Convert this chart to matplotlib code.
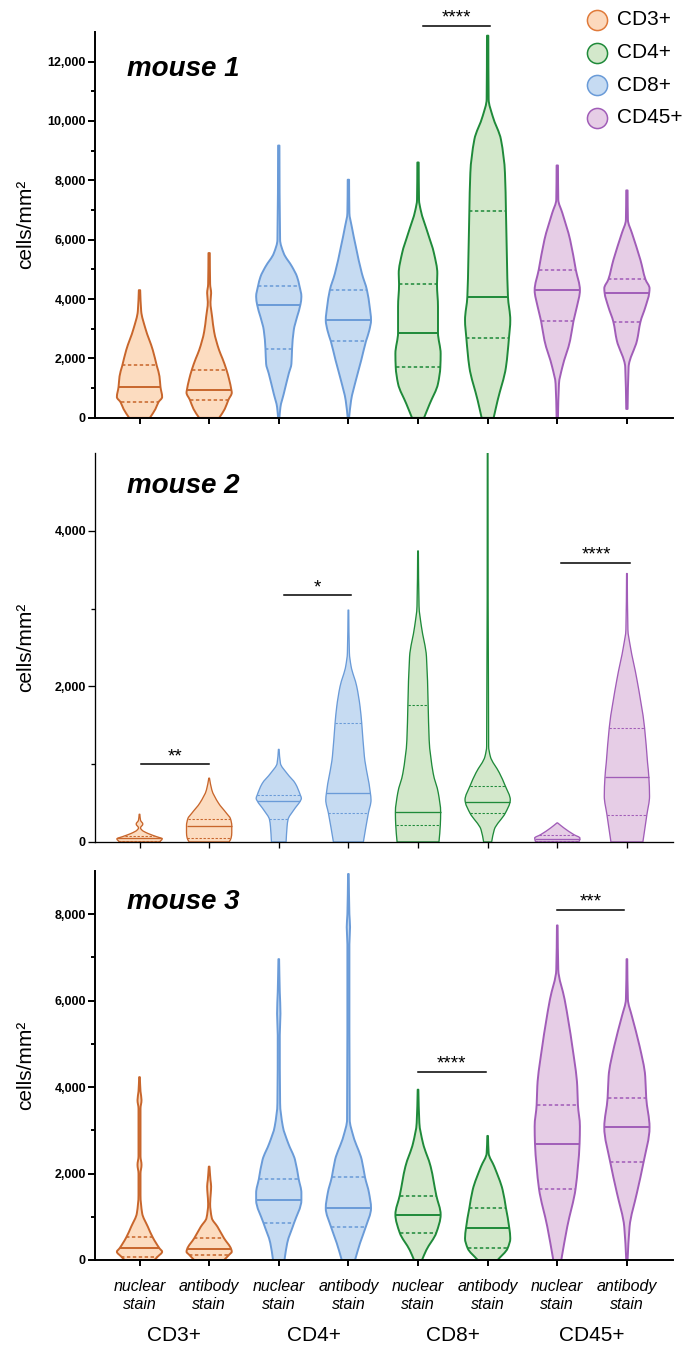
import numpy as np
import matplotlib
matplotlib.use('Agg')
import matplotlib.pyplot as plt
from matplotlib.path import Path
from matplotlib.patches import PathPatch
from matplotlib.ticker import FixedLocator, FuncFormatter
from matplotlib.transforms import blended_transform_factory

plt.rcParams['font.family'] = ['Liberation Sans', 'DejaVu Sans']

# x positions: nuclear / antibody stain pairs for CD3+, CD4+, CD8+, CD45+
positions = [1, 2, 3, 4, 5, 6, 7, 8]
stain_labels = ['nuclear\nstain', 'antibody\nstain'] * 4
group_labels = ['CD3+', 'CD4+', 'CD8+', 'CD45+']

# colours per pair (edge, fill)
orange = ('#C8662C', '#FCDCC0')
blue = ('#6A9BD8', '#C6DBF2')
green = ('#1F8A3A', '#D3E8CB')
purple = ('#A15DB8', '#E6CDE6')
pair_colors = [orange, orange, blue, blue, green, green, purple, purple]

legend_labels = ['CD3+', 'CD4+', 'CD8+', 'CD45+']
legend_edges = ['#E07A3A', '#1F8A3A', '#6A9BD8', '#A15DB8']
legend_faces = ['#FCD9BD', '#D3E8CB', '#C6DBF2', '#E6CDE6']

# ---- mouse 1: density profiles (cells/mm2, relative half width) ----
m1_y1 = [0, 300, 530, 700, 1040, 1400, 1750, 2280, 3000, 3600, 4300]
m1_w1 = [31, 48, 57, 68, 63, 60, 52, 40, 18, 5, 2]
m1_y2 = [0, 300, 610, 850, 930, 1300, 1620, 2000, 2280, 2900, 3400, 3900, 4200, 4500, 5550]
m1_w2 = [30, 47, 58, 68, 67, 60, 52, 40, 30, 15, 9, 4, 6, 3, 2]
m1_y3 = [0, 360, 810, 1490, 1820, 2330, 2950, 3400, 3810, 4080, 4450, 4750, 5090, 5540, 6000, 9170]
m1_w3 = [2, 5, 15, 30, 38, 40, 45, 55, 65, 68, 62, 55, 40, 15, 4, 2]
m1_y4 = [0, 590, 1260, 1940, 2580, 2950, 3290, 3740, 4300, 4860, 5770, 6440, 6900, 8020]
m1_w4 = [2, 8, 22, 38, 52, 62, 67, 63, 55, 40, 22, 10, 3, 2]
m1_y5 = [0, 470, 1150, 1710, 2160, 2870, 3740, 4500, 4860, 5540, 6200, 7000, 7340, 8600]
m1_w5 = [18, 35, 60, 67, 68, 60, 60, 57, 58, 48, 30, 8, 3, 2]
m1_y6 = [0, 590, 1710, 2690, 3290, 4080, 5320, 6950, 8250, 9370, 10160, 10730, 12870]
m1_w6 = [18, 30, 55, 64, 68, 61, 58, 55, 52, 40, 15, 3, 2]
m1_y7 = [0, 1150, 1710, 2610, 3260, 3740, 4300, 4980, 6000, 6900, 7350, 8500]
m1_w7 = [2, 5, 15, 38, 48, 58, 67, 55, 38, 15, 3, 2]
m1_y8 = [300, 1710, 2610, 3230, 3740, 4210, 4360, 4660, 5320, 6220, 6670, 7660]
m1_w8 = [2, 5, 30, 40, 55, 66, 67, 55, 40, 15, 3, 2]
m1_q1 = [530, 610, 2330, 2580, 1710, 2690, 3260, 3230]
m1_med = [1040, 930, 3810, 3290, 2870, 4080, 4300, 4210]
m1_q3 = [1770, 1620, 4450, 4300, 4500, 6950, 4980, 4660]

# ---- mouse 2 ----
m2_y1 = [0, 40, 70, 110, 150, 180, 230, 280, 356]
m2_w1 = [60, 68, 50, 25, 8, 3, 10, 3, 1]
m2_y2 = [0, 50, 120, 210, 300, 370, 500, 670, 820]
m2_w2 = [60, 66, 68, 68, 64, 52, 28, 8, 1]
m2_y3 = [0, 200, 290, 410, 530, 560, 600, 750, 880, 1010, 1190]
m2_w3 = [22, 25, 28, 45, 65, 68, 65, 50, 25, 5, 1]
m2_y4 = [0, 370, 540, 630, 1100, 1530, 1740, 2000, 2260, 2430, 2980]
m2_w4 = [45, 60, 68, 66, 48, 40, 35, 25, 8, 3, 1]
m2_y5 = [0, 220, 380, 630, 880, 1310, 1760, 2380, 2770, 3030, 3740]
m2_w5 = [62, 66, 67, 60, 45, 33, 30, 25, 10, 3, 1]
m2_y6 = [0, 160, 370, 510, 540, 720, 890, 1100, 1230, 5000]
m2_w6 = [12, 20, 53, 67, 68, 53, 35, 8, 3, 1]
m2_y7 = [0, 50, 94, 180, 245]
m2_w7 = [65, 68, 50, 20, 1]
m2_y8 = [0, 350, 590, 830, 1020, 1470, 2090, 2520, 2730, 3450]
m2_w8 = [48, 60, 68, 66, 62, 53, 30, 10, 3, 1]
m2_q1 = [17, 50, 290, 370, 220, 370, 15, 350]
m2_med = [45, 210, 530, 630, 380, 510, 40, 830]
m2_q3 = [80, 300, 600, 1530, 1760, 720, 85, 1470]

# ---- mouse 3 ----
m3_y1 = [0, 80, 190, 270, 520, 770, 1080, 1500, 2000, 2200, 2400, 3000, 3500, 3700, 3900, 4230]
m3_w1 = [45, 55, 68, 60, 40, 25, 8, 3, 3, 6, 3, 3, 3, 6, 3, 1]
m3_y2 = [0, 120, 190, 255, 500, 770, 970, 1300, 1550, 1700, 1850, 2160]
m3_w2 = [45, 60, 68, 66, 45, 25, 8, 3, 5, 6, 4, 1]
m3_y3 = [0, 390, 850, 1390, 1550, 1870, 2320, 2700, 3090, 3630, 5200, 5700, 6200, 6960]
m3_w3 = [17, 25, 45, 67, 67, 59, 48, 28, 12, 4, 3, 5, 3, 1]
m3_y4 = [0, 390, 760, 1200, 1550, 1910, 2320, 2860, 3250, 7300, 7700, 8000, 8930]
m3_w4 = [20, 35, 52, 68, 62, 50, 40, 15, 4, 3, 5, 3, 1]
m3_y5 = [0, 230, 630, 1050, 1490, 2160, 2700, 3170, 3940]
m3_w5 = [12, 25, 55, 68, 55, 38, 15, 4, 1]
m3_y6 = [0, 270, 500, 740, 1200, 1620, 2160, 2470, 2870]
m3_w6 = [30, 60, 68, 65, 55, 45, 20, 3, 1]
m3_y7 = [0, 770, 1650, 2160, 2690, 3090, 3590, 4020, 4950, 6030, 6720, 7740]
m3_w7 = [12, 30, 55, 62, 67, 68, 62, 60, 45, 22, 3, 1]
m3_y8 = [0, 770, 1550, 2260, 3070, 3750, 4250, 4950, 5640, 6030, 6960]
m3_w8 = [2, 8, 30, 50, 68, 58, 55, 38, 15, 3, 1]
m3_q1 = [80, 120, 850, 760, 630, 270, 1650, 2260]
m3_med = [270, 255, 1390, 1200, 1050, 740, 2690, 3070]
m3_q3 = [520, 500, 1870, 1910, 1490, 1200, 3590, 3750]

# significance bars: (x start, x end, height, stars)
m1_sig = [(5.07, 6.04, 13200, '****')]
m2_sig = [(1.02, 2.0, 1000, '**'), (3.07, 4.04, 3170, '*'), (7.06, 8.05, 3590, '****')]
m3_sig = [(7.0, 7.96, 8100, '***'), (5.0, 5.97, 4350, '****')]

VWIDTH = 0.65
DASH = (0, (2.2, 1.6))


def knot_slopes(y, x):
    # shape preserving slopes dx/dy at each knot
    h = np.diff(y)
    d = np.diff(x) / h
    m = np.zeros_like(x)
    m[0], m[-1] = d[0], d[-1]
    for i in range(1, len(x) - 1):
        if d[i - 1] * d[i] > 0:
            w1 = 2 * h[i] + h[i - 1]
            w2 = h[i] + 2 * h[i - 1]
            m[i] = (w1 + w2) / (w1 / d[i - 1] + w2 / d[i])
    return m


def width_at(q, y, x, m):
    i = int(np.clip(np.searchsorted(y, q) - 1, 0, len(y) - 2))
    h = y[i + 1] - y[i]
    t = (q - y[i]) / h
    return ((2 * t**3 - 3 * t**2 + 1) * x[i] + (t**3 - 2 * t**2 + t) * h * m[i]
            + (-2 * t**3 + 3 * t**2) * x[i + 1] + (t**3 - t**2) * h * m[i + 1])


def draw_violin(ax, pos, ys, ws, q1, med, q3, edge, face, lw):
    y = np.asarray(ys, float)
    hw = np.asarray(ws, float)
    hw = hw * 0.5 * VWIDTH / hw.max()
    m = knot_slopes(y, hw)

    verts = [(pos - hw[0], y[0]), (pos + hw[0], y[0])]
    codes = [Path.MOVETO, Path.LINETO]
    for side in (1, -1):
        idx = range(len(y) - 1) if side == 1 else range(len(y) - 2, -1, -1)
        if side == -1:
            verts.append((pos - hw[-1], y[-1]))
            codes.append(Path.LINETO)
        for i in idx:
            h = y[i + 1] - y[i]
            c1 = (pos + side * (hw[i] + m[i] * h / 3), y[i] + h / 3)
            c2 = (pos + side * (hw[i + 1] - m[i + 1] * h / 3), y[i + 1] - h / 3)
            if side == 1:
                verts += [c1, c2, (pos + hw[i + 1], y[i + 1])]
            else:
                verts += [c2, c1, (pos - hw[i], y[i])]
            codes += [Path.CURVE4] * 3
    verts.append(verts[0])
    codes.append(Path.CLOSEPOLY)
    ax.add_patch(PathPatch(Path(verts, codes), facecolor=face, edgecolor=edge,
                           lw=lw, joinstyle='round'))

    for q, ls in ((q1, DASH), (med, '-'), (q3, DASH)):
        w = width_at(q, y, hw, m)
        ax.plot([pos - w, pos + w], [q, q], color=edge, lw=lw * (1 if ls == '-' else 0.8),
                ls=ls, solid_capstyle='butt')


fig = plt.figure(figsize=(6.88, 13.48), dpi=100)
ax1 = fig.add_axes([0.138, 0.690, 0.840, 0.2864])
ax2 = fig.add_axes([0.138, 0.3754, 0.840, 0.2886])
ax3 = fig.add_axes([0.138, 0.0653, 0.840, 0.2886])

panels = [
    (ax1, 'mouse 1', [m1_y1, m1_y2, m1_y3, m1_y4, m1_y5, m1_y6, m1_y7, m1_y8],
     [m1_w1, m1_w2, m1_w3, m1_w4, m1_w5, m1_w6, m1_w7, m1_w8], m1_q1, m1_med, m1_q3, m1_sig,
     13000, [0, 2000, 4000, 6000, 8000, 10000, 12000], [1000, 3000, 5000, 7000, 9000, 11000], 11500, 1.4),
    (ax2, 'mouse 2', [m2_y1, m2_y2, m2_y3, m2_y4, m2_y5, m2_y6, m2_y7, m2_y8],
     [m2_w1, m2_w2, m2_w3, m2_w4, m2_w5, m2_w6, m2_w7, m2_w8], m2_q1, m2_med, m2_q3, m2_sig,
     5000, [0, 2000, 4000], [1000, 3000], 4490, 0.95),
    (ax3, 'mouse 3', [m3_y1, m3_y2, m3_y3, m3_y4, m3_y5, m3_y6, m3_y7, m3_y8],
     [m3_w1, m3_w2, m3_w3, m3_w4, m3_w5, m3_w6, m3_w7, m3_w8], m3_q1, m3_med, m3_q3, m3_sig,
     9000, [0, 2000, 4000, 6000, 8000], [1000, 3000, 5000, 7000], 8120, 1.4),
]

for ax, title, ys_list, ws_list, q1s, meds, q3s, sigs, ymax, majors, minors, title_y, lw in panels:
    for i, pos in enumerate(positions):
        edge, face = pair_colors[i]
        draw_violin(ax, pos, ys_list[i], ws_list[i], q1s[i], meds[i], q3s[i], edge, face, lw)

    for x0, x1, h, stars in sigs:
        ax.plot([x0, x1], [h, h], color='black', lw=1.1, clip_on=False)
        ax.annotate(stars, xy=((x0 + x1) / 2, h), xytext=(0, 2.2), textcoords='offset points',
                    ha='center', va='baseline', fontsize=13.5, annotation_clip=False)

    ax.text(0.82, title_y, title, fontsize=20, fontweight='bold', fontstyle='italic',
            ha='left', va='baseline')

    ax.set_xlim(0.36, 8.66)
    ax.set_ylim(0, ymax)
    ax.spines['top'].set_visible(False)
    ax.spines['right'].set_visible(False)
    ax.spines['left'].set_linewidth(lw)
    ax.spines['bottom'].set_linewidth(lw)
    ax.yaxis.set_major_locator(FixedLocator(majors))
    ax.yaxis.set_minor_locator(FixedLocator(minors))
    ax.yaxis.set_major_formatter(FuncFormatter(lambda v, p: f'{int(v):,}'))
    ax.tick_params(axis='y', which='major', length=5, width=lw, pad=1.5, labelsize=9)
    ax.tick_params(axis='y', which='minor', length=3, width=lw)
    ax.tick_params(axis='x', which='major', length=4, width=lw)
    for lab in ax.get_yticklabels():
        lab.set_fontweight('bold')
    ax.set_xticks(positions)
    ax.set_ylabel('cells/mm²', fontsize=15)
    ax.yaxis.set_label_coords(-0.103, 0.5)

ax1.set_xticklabels([])
ax2.set_xticklabels([])
ax3.set_xticklabels(stain_labels, fontsize=11.5, fontstyle='italic', linespacing=1.25)
ax3.tick_params(axis='x', pad=10)

trans = blended_transform_factory(ax3.transData, ax3.transAxes)
for k, name in enumerate(group_labels):
    ax3.text(positions[2 * k] + 0.5, -0.195, name, transform=trans, ha='center', va='center', fontsize=15)

# legend drawn as circles with labels at the upper right of the first panel
for k, name in enumerate(legend_labels):
    yk = 1.031 - k * 0.0847
    ax1.plot([0.8685], [yk], marker='o', ms=14.5, mfc=legend_faces[k], mec=legend_edges[k], mew=1.1,
             transform=ax1.transAxes, clip_on=False)
    ax1.text(0.903, yk, name, transform=ax1.transAxes, ha='left', va='center', fontsize=15)

fig.savefig('out.png', dpi=100)
